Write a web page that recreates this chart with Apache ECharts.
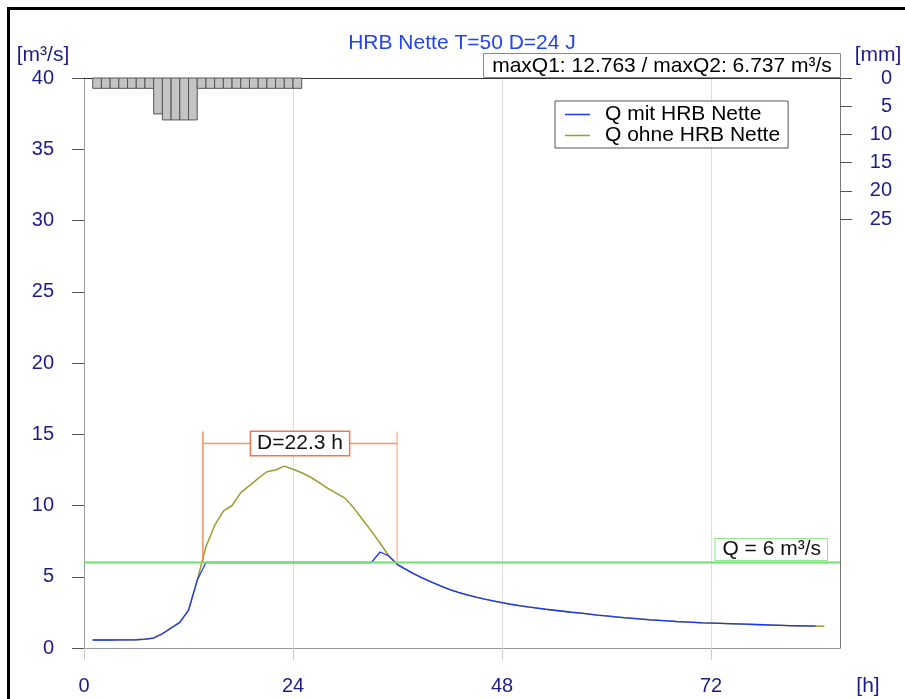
<!DOCTYPE html>
<html><head><meta charset="utf-8">
<script src="https://cdn.jsdelivr.net/npm/echarts@6/dist/echarts.min.js"></script>
<style>html,body{margin:0;padding:0;background:#fff}#c{width:905px;height:699px}</style>
</head><body><div id="c"></div>
<script>
// ---------- data ----------
const hours = [1,2,3,4,5,6,7,8,9,10,11,12,13,14,15,16,17,18,19,20,21,22,23,24,25,26,27,28,29,30,
  31,32,33,34,35,36,37,38,39,40,41,42,43,44,45,46,47,48,49,50,51,52,53,54,55,56,57,58,59,60,
  61,62,63,64,65,66,67,68,69,70,71,72,73,74,75,76,77,78,79,80,81,82,83,84,85];
const qOhne = [0.56,0.56,0.56,0.57,0.57,0.58,0.62,0.70,1.00,1.40,1.80,2.65,4.75,7.10,8.60,9.60,10.00,10.90,11.40,11.90,
  12.37,12.49,12.763,12.54,12.30,12.00,11.60,11.20,10.85,10.50,9.80,9.00,8.20,7.35,6.46,5.85,5.50,5.17,4.87,4.60,
  4.34,4.10,3.90,3.72,3.57,3.43,3.30,3.18,3.07,2.97,2.88,2.80,2.72,2.65,2.58,2.51,2.45,2.38,2.30,2.25,
  2.19,2.13,2.08,2.03,1.98,1.94,1.90,1.86,1.83,1.80,1.77,1.75,1.73,1.71,1.69,1.67,1.65,1.63,1.61,1.59,
  1.57,1.56,1.55,1.54,1.52];
const qMit = [0.56,0.56,0.56,0.57,0.57,0.58,0.62,0.70,1.00,1.40,1.80,2.65,4.75,6.00,6.00,6.00,6.00,6.00,6.00,6.00,
  6.00,6.00,6.00,6.00,6.00,6.00,6.00,6.00,6.00,6.00,6.00,6.00,6.00,6.737,6.46,5.85,5.50,5.17,4.87,4.60,
  4.34,4.10,3.90,3.72,3.57,3.43,3.30,3.18,3.07,2.97,2.88,2.80,2.72,2.65,2.58,2.51,2.45,2.38,2.30,2.25,
  2.19,2.13,2.08,2.03,1.98,1.94,1.90,1.86,1.83,1.80,1.77,1.75,1.73,1.71,1.69,1.67,1.65,1.63,1.61,1.59,
  1.57,1.56,1.55,1.54];
const rainStart = [1,2,3,4,5,6,7,8,9,10,11,12,13,14,15,16,17,18,19,20,21,22,23,24];
const rainEnd   = [2,3,4,5,6,7,8,9,10,11,12,13,14,15,16,17,18,19,20,21,22,23,24,25];
const rainMm    = [1.83,1.83,1.83,1.83,1.83,1.83,1.83,6.37,7.43,7.43,7.43,7.43,1.83,1.83,1.83,1.83,1.83,1.83,1.83,1.83,1.83,1.83,1.83,1.83];
const threshold = 6;
const durStart = 13.65, durEnd = 35.95, durTop = 15.2, durBar = 14.35;
const durLabel = 'D=22.3 h';
const xTicks = [0,24,48,72];
const yTicks = [0,5,10,15,20,25,30,35,40];
const rainTicks = [0,5,10,15,20,25];
const titleText = 'HRB Nette T=50 D=24 J';
const nameMit = 'Q mit HRB Nette', nameOhne = 'Q ohne HRB Nette';

// ---------- chart ----------
const FF = '"Liberation Sans", Arial, sans-serif';
const NAVY = '#1c1c88';
const XMAX = 86.8;
const zip = (xs, ys) => ys.map((v, i) => [xs[i], v]);
const maxQ1 = Math.max(...qOhne), maxQ2 = Math.max(...qMit);

const chart = echarts.init(document.getElementById('c'), null, {renderer: 'canvas'});
chart.setOption({
  animation: false,
  backgroundColor: '#fff',
  textStyle: {fontFamily: FF},
  title: {text: titleText, left: 462, top: 33, textAlign: 'center', padding: 0,
    textStyle: {fontSize: 21, fontWeight: 'normal', color: '#2244ee', fontFamily: FF, lineHeight: 21}},
  legend: {data: [nameMit, nameOhne], orient: 'vertical', left: 555, top: 101,
    icon: 'rect', itemWidth: 25, itemHeight: 1.5, itemGap: 0, padding: [3, 8, 2, 10],
    borderColor: '#555', borderWidth: 1, backgroundColor: '#fff',
    textStyle: {fontSize: 21, color: '#000', lineHeight: 21, padding: [0, 0, 0, 10], fontFamily: FF}},
  grid: {left: 84, right: 65, top: 78, bottom: 51, containLabel: false},
  xAxis: [
    {type: 'value', min: 0, max: XMAX, interval: 24, position: 'bottom',
      axisLine: {show: true, onZero: false, lineStyle: {color: '#999'}},
      axisTick: {show: true, length: 12, customValues: xTicks, lineStyle: {color: '#ccc'}},
      axisLabel: {customValues: xTicks, margin: 28, fontSize: 20, color: NAVY, fontFamily: FF},
      splitLine: {show: true, lineStyle: {color: '#ddd'}}},
    {type: 'value', min: 0, max: XMAX, position: 'top',
      axisLine: {show: true, onZero: false, lineStyle: {color: '#333'}},
      axisTick: {show: false}, axisLabel: {show: false}, splitLine: {show: false}}
  ],
  yAxis: [
    {type: 'value', min: 0, max: 40, interval: 5, position: 'left',
      axisLine: {show: true, onZero: false, lineStyle: {color: '#999'}},
      axisTick: {show: true, length: 12, customValues: yTicks, lineStyle: {color: '#555'}},
      axisLabel: {customValues: yTicks, margin: 30, fontSize: 20, color: NAVY, fontFamily: FF},
      splitLine: {show: false}},
    {type: 'value', min: 0, max: 101, interval: 5, position: 'right', inverse: true,
      axisLine: {show: true, onZero: false, lineStyle: {color: '#777'}},
      axisTick: {show: true, length: 12, customValues: rainTicks, lineStyle: {color: '#555'}},
      axisLabel: {customValues: rainTicks, margin: 52, align: 'right', fontSize: 20, color: NAVY, fontFamily: FF},
      splitLine: {show: false}}
  ],
  graphic: [
    {type: 'rect', z: 100, shape: {x: 8.5, y: 8.5, width: 920, height: 720}, style: {fill: 'none', stroke: '#000', lineWidth: 3}},
    {type: 'text', x: 43, y: 55, style: {text: '[m³/s]', font: '21px ' + FF, fill: NAVY, align: 'center', verticalAlign: 'middle'}},
    {type: 'text', x: 878, y: 55, style: {text: '[mm]', font: '21px ' + FF, fill: NAVY, align: 'center', verticalAlign: 'middle'}},
    {type: 'text', x: 868, y: 686, style: {text: '[h]', font: '21px ' + FF, fill: NAVY, align: 'center', verticalAlign: 'middle'}},
    {type: 'rect', z: 50, shape: {x: 483.5, y: 53.5, width: 357, height: 24}, style: {fill: '#fff', stroke: '#888', lineWidth: 1}},
    {type: 'text', z: 51, x: 662, y: 66, style: {text: 'maxQ1: ' + maxQ1.toFixed(3) + ' / maxQ2: ' + maxQ2.toFixed(3) + ' m³/s',
      font: '21px ' + FF, fill: '#000', align: 'center', verticalAlign: 'middle'}}
  ],
  series: [
    {type: 'custom', name: 'rain', xAxisIndex: 0, yAxisIndex: 1, silent: true, z: 1,
      data: rainMm.map((v, i) => [rainStart[i], rainEnd[i], v]),
      encode: {x: [0, 1], y: 2},
      renderItem: function (params, api) {
        const p0 = api.coord([api.value(0), 0]);
        const p1 = api.coord([api.value(1), api.value(2)]);
        return {type: 'rect', shape: {x: p0[0], y: p0[1], width: p1[0] - p0[0], height: p1[1] - p0[1]},
          style: {fill: '#c4c4c4', stroke: '#555', lineWidth: 1}};
      }},
    {type: 'line', name: nameOhne, data: zip(hours, qOhne), symbol: 'none', showSymbol: false, z: 3,
      lineStyle: {color: '#9c9c2c', width: 1.5}, itemStyle: {color: '#9c9c2c'}},
    {type: 'line', name: nameMit, data: zip(hours, qMit), symbol: 'none', showSymbol: false, z: 4,
      lineStyle: {color: '#1a36ff', width: 1.3}, itemStyle: {color: '#1a36ff'}},
    {type: 'custom', name: 'annot', xAxisIndex: 0, yAxisIndex: 0, silent: true, z: 10,
      data: [[durStart, durEnd, threshold]],
      renderItem: function (params, api) {
        const a = api.coord([0, threshold]), b = api.coord([XMAX, threshold]);
        const s0 = api.coord([durStart, threshold]), s1 = api.coord([durStart, durTop]);
        const e0 = api.coord([durEnd, threshold]), e1 = api.coord([durEnd, durTop]);
        const h0 = api.coord([durStart, durBar]), h1 = api.coord([durEnd, durBar]);
        return {type: 'group', children: [
          {type: 'line', shape: {x1: a[0], y1: a[1], x2: b[0], y2: b[1]}, style: {stroke: '#6fe06f', lineWidth: 1.8}},
          {type: 'line', shape: {x1: s0[0], y1: s0[1], x2: s1[0], y2: s1[1]}, style: {stroke: '#ff7a45', lineWidth: 1.3}},
          {type: 'line', shape: {x1: e0[0], y1: e0[1], x2: e1[0], y2: e1[1]}, style: {stroke: '#ffb296', lineWidth: 1.3}},
          {type: 'line', shape: {x1: h0[0], y1: h0[1], x2: h1[0], y2: h1[1]}, style: {stroke: '#ff9466', lineWidth: 1.3}},
          {type: 'text', x: (h0[0] + h1[0]) / 2, y: h0[1], style: {text: durLabel, font: '21px ' + FF, fill: '#111',
            align: 'center', verticalAlign: 'middle', backgroundColor: '#fff', borderColor: '#f07850', borderWidth: 1.5,
            padding: [1, 6, 1, 6]}},
          {type: 'text', x: b[0] - 13, y: b[1] - 2.5, style: {text: 'Q = ' + threshold + ' m³/s', font: '21px ' + FF, fill: '#111',
            align: 'right', verticalAlign: 'bottom', backgroundColor: '#fff', borderColor: '#90e890', borderWidth: 1,
            padding: [0, 6, 0, 7]}}
        ]};
      }}
  ]
});
</script>
</body></html>
